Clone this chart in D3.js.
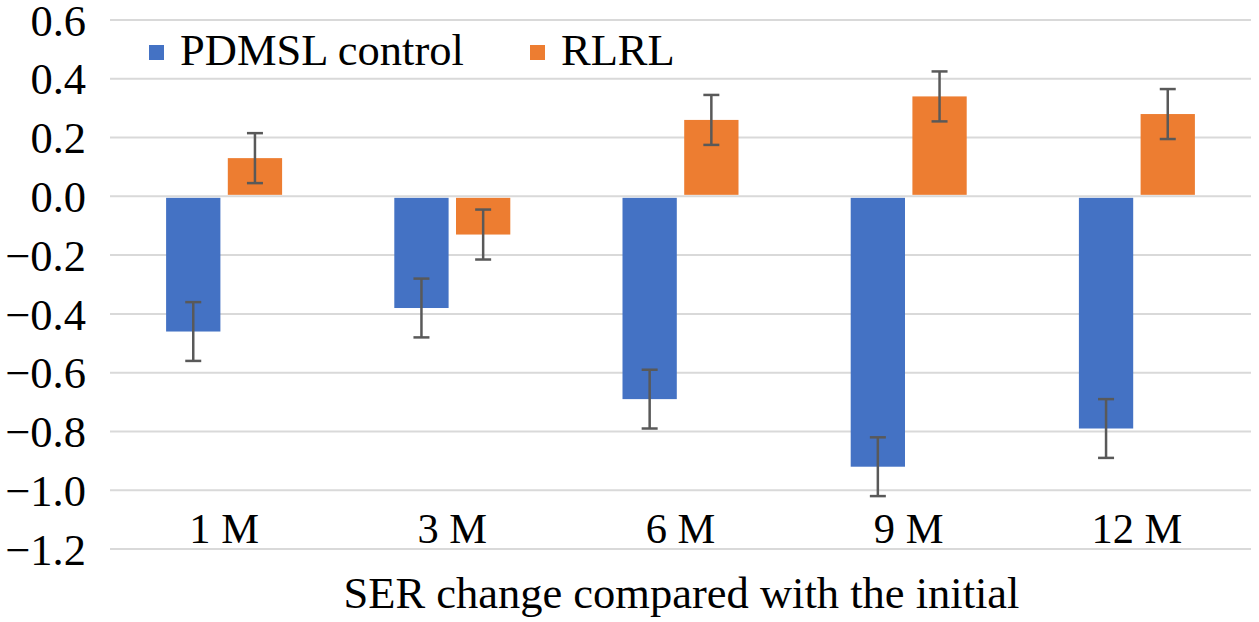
<!DOCTYPE html>
<html lang="en">
<head>
<meta charset="utf-8">
<title>SER change</title>
<script src="https://d3js.org/d3.v7.min.js"></script>
<style>
  body { margin: 0; background: #fff; }
</style>
</head>
<body>
<div id="viz"></div>
<script>
// data
const categories = ["1 M", "3 M", "6 M", "9 M", "12 M"];
const seriesNames = ["PDMSL control", "RLRL"];
const controlValues = [-0.46, -0.38, -0.69, -0.92, -0.79];
const controlErrors = [0.10, 0.10, 0.10, 0.10, 0.10];
const rlrlValues = [0.13, -0.13, 0.26, 0.34, 0.28];
const rlrlErrors = [0.085, 0.085, 0.085, 0.085, 0.085];
const yTicks = [0.6, 0.4, 0.2, 0.0, -0.2, -0.4, -0.6, -0.8, -1.0, -1.2];
const colors = ["#4472C4", "#ED7D31"];

const width = 1259, height = 622;
const plot = {left: 110, right: 1251, top: 20, bottom: 549};
const fontSize = "44.5px";
const catFontSize = "42.5px";
const serif = '"Liberation Serif"';

const svg = d3.select("#viz").append("svg")
    .attr("width", width)
    .attr("height", height);

const y = d3.scaleLinear().domain([-1.2, 0.6]).range([plot.bottom, plot.top]);
const x0 = d3.scaleBand().domain(categories).range([plot.left, plot.right]);
const half = 58;
const x1 = d3.scaleBand().domain(seriesNames)
    .range([x0.bandwidth() / 2 - half, x0.bandwidth() / 2 + half])
    .paddingInner(0.12);

// gridlines
svg.append("g").selectAll("line")
    .data(yTicks).enter().append("line")
    .attr("x1", plot.left).attr("x2", plot.right)
    .attr("y1", d => y(d)).attr("y2", d => y(d))
    .attr("stroke", "#d9d9d9").attr("stroke-width", 2);

// y axis labels
const yAxis = d3.axisLeft(y).tickValues(yTicks).tickSize(0).tickPadding(0)
    .tickFormat(d => d3.format(".1f")(d).replace("-", "\u2212"));
const gy = svg.append("g").attr("transform", `translate(${plot.left - 24},0)`).call(yAxis);
gy.select(".domain").remove();
gy.selectAll("text")
    .style("font-family", serif).style("font-size", fontSize)
    .attr("fill", "#000").attr("dy", "0.34em");

const rows = categories.map((c, i) => ({
  cat: c,
  vals: [
    {s: seriesNames[0], v: controlValues[i], e: controlErrors[i], c: colors[0]},
    {s: seriesNames[1], v: rlrlValues[i], e: rlrlErrors[i], c: colors[1]}
  ]
}));

const groups = svg.append("g").selectAll("g")
    .data(rows).enter().append("g")
    .attr("transform", d => `translate(${x0(d.cat)},0)`);

groups.selectAll("rect")
    .data(d => d.vals).enter().append("rect")
    .attr("x", d => x1(d.s))
    .attr("width", x1.bandwidth())
    .attr("y", d => d.v >= 0 ? y(d.v) : y(0) + 1.5)
    .attr("height", d => Math.abs(y(d.v) - y(0)) - 1.5)
    .attr("fill", d => d.c);

// error bars
const eb = groups.selectAll("g.err")
    .data(d => d.vals).enter().append("g")
    .attr("class", "err")
    .attr("stroke", "#595959").attr("stroke-width", 2.5);
eb.append("line")
    .attr("x1", d => x1(d.s) + x1.bandwidth() / 2)
    .attr("x2", d => x1(d.s) + x1.bandwidth() / 2)
    .attr("y1", d => y(d.v + d.e)).attr("y2", d => y(d.v - d.e));
[1, -1].forEach(sgn => {
  eb.append("line")
    .attr("x1", d => x1(d.s) + x1.bandwidth() / 2 - 8)
    .attr("x2", d => x1(d.s) + x1.bandwidth() / 2 + 8)
    .attr("y1", d => y(d.v + sgn * d.e)).attr("y2", d => y(d.v + sgn * d.e));
});

// category labels
const xAxis = d3.axisBottom(x0).tickSize(0).tickPadding(0);
const gx = svg.append("g").attr("transform", `translate(0,${y(-1.2) - 6})`).call(xAxis);
gx.select(".domain").remove();
gx.selectAll("text")
    .style("font-family", serif).style("font-size", catFontSize)
    .attr("fill", "#000").attr("dy", "0");

// axis title
svg.append("text")
    .attr("x", (plot.left + plot.right) / 2 + 1)
    .attr("y", 608)
    .attr("text-anchor", "middle")
    .style("font-family", serif).style("font-size", fontSize)
    .text("SER change compared with the initial");

// legend
const legendX = [149, 530];
const legend = svg.append("g").selectAll("g")
    .data(seriesNames).enter().append("g")
    .attr("transform", (d, i) => `translate(${legendX[i]},45)`);
legend.append("rect").attr("width", 15).attr("height", 15)
    .attr("fill", (d, i) => colors[i]);
legend.append("text").attr("x", 31).attr("y", 20)
    .style("font-family", serif).style("font-size", fontSize)
    .text(d => d);
</script>
</body>
</html>
